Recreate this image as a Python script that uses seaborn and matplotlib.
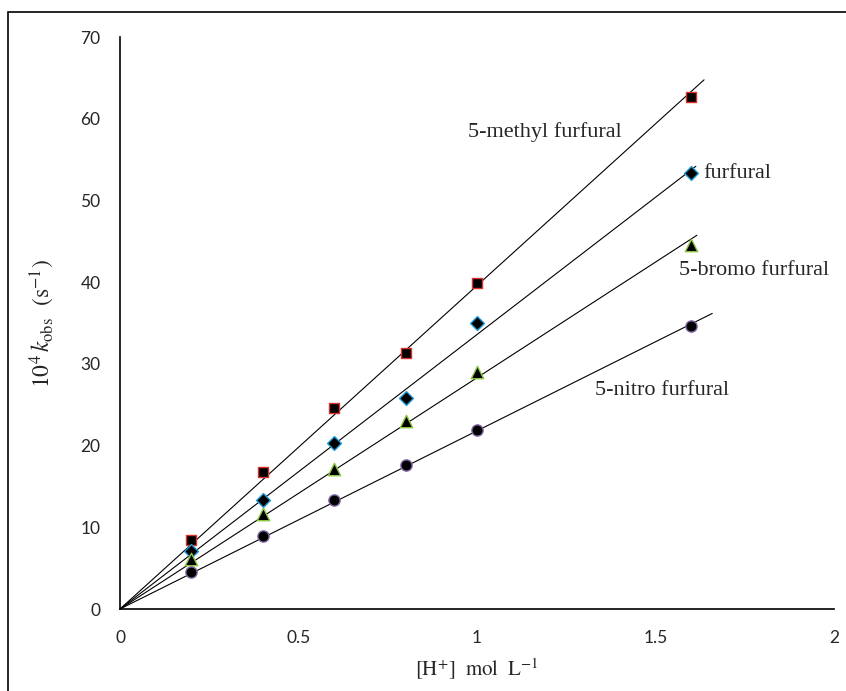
import numpy as np
import pandas as pd
import matplotlib
matplotlib.use("Agg")
import matplotlib.pyplot as plt
import seaborn as sns


# Data
h_conc = [0.2, 0.4, 0.6, 0.8, 1.0, 1.6]

k_methyl = [8.4, 16.8, 24.6, 31.3, 39.9, 62.7]
k_furfural = [7.1, 13.4, 20.3, 25.8, 35.0, 53.3]
k_bromo = [6.1, 11.6, 17.1, 23.0, 29.0, 44.5]
k_nitro = [4.5, 8.9, 13.3, 17.6, 21.9, 34.6]

names = ["5-methyl furfural", "furfural", "5-bromo furfural", "5-nitro furfural"]


# styling per series: marker, edge colour, size, trend line end, label spot
styles = {
    "5-methyl furfural": dict(marker="s", edge="#d9312b", s=50, xend=1.636, lab=(0.975, 57.8)),
    "furfural": dict(marker="D", edge="#1e9ad6", s=50, xend=1.613, lab=(1.633, 52.7)),
    "5-bromo furfural": dict(marker="^", edge="#8dc63f", s=80, xend=1.616, lab=(1.566, 40.9)),
    "5-nitro furfural": dict(marker="o", edge="#8064a2", s=65, xend=1.659, lab=(1.331, 26.2)),
}

df = pd.DataFrame({
    "H": h_conc * 4,
    "k": k_methyl + k_furfural + k_bromo + k_nitro,
    "compound": [n for n in names for _ in h_conc],
})


sns.set_style("white")
plt.rcParams["mathtext.fontset"] = "stix"

fig = plt.figure(figsize=(8.46, 6.91), dpi=100)
ax = fig.add_axes([120 / 846, 82 / 691, 714 / 846, 572 / 691])

for name in names:
    st = styles[name]
    sub = df[df["compound"] == name]

    # linear trendline forced through the origin
    slope = np.sum(sub["H"] * sub["k"]) / np.sum(sub["H"] ** 2)
    line = pd.DataFrame({"H": [0.0, st["xend"]]})
    line["k"] = slope * line["H"]
    sns.lineplot(data=line, x="H", y="k", ax=ax, color="black", linewidth=0.8)

    sns.scatterplot(
        data=sub, x="H", y="k", ax=ax,
        marker=st["marker"], color="black", edgecolor=st["edge"],
        linewidth=1.0, s=st["s"], zorder=3
    )

    ax.text(st["lab"][0], st["lab"][1], name, family="Liberation Serif",
            fontsize=16, ha="left", va="baseline")


ax.set_xlim(0, 2)
ax.set_ylim(0, 70)
ax.set_xticks([0, 0.5, 1, 1.5, 2])
ax.set_xticklabels(["0", "0.5", "1", "1.5", "2"])
ax.set_yticks(range(0, 71, 10))

for lab in ax.get_xticklabels() + ax.get_yticklabels():
    lab.set_family("Lato")
    lab.set_fontsize(12.5)

ax.tick_params(axis="y", length=0, pad=14)
ax.tick_params(axis="x", length=0, pad=15)

for side in ["top", "right"]:
    ax.spines[side].set_visible(False)
for side in ["left", "bottom"]:
    ax.spines[side].set_color("black")
    ax.spines[side].set_linewidth(1.2)

ax.set_xlabel(r"$[\mathrm{H}^{+}]\ \ \mathrm{mol}\ \ \mathrm{L}^{-1}$", fontsize=15, labelpad=8)
ax.set_ylabel(r"$10^4\,k_{\mathrm{obs}}\ \ (\mathrm{s}^{-1})$", fontsize=17, labelpad=17)

# outer frame around the chart area
fig.patches.append(plt.Rectangle((8 / 846, -0.05), 1.1, (691 - 12) / 691 + 0.05,
                                 transform=fig.transFigure, fill=False,
                                 edgecolor="black", linewidth=1.2))

fig.savefig("out.png", dpi=100)
